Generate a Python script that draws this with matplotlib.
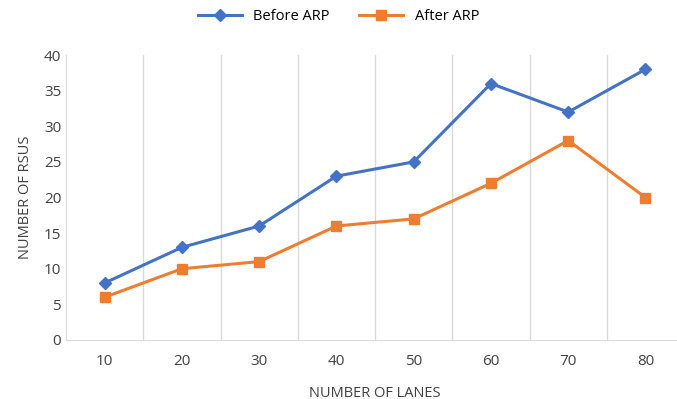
import matplotlib.pyplot as plt

# Chart data
lanes = ['10', '20', '30', '40', '50', '60', '70', '80']
before_arp = [8, 13, 16, 23, 25, 36, 32, 38]
after_arp = [6, 10, 11, 16, 17, 22, 28, 20]

plt.rcParams['font.family'] = ['Open Sans', 'DejaVu Sans']

fig = plt.figure(figsize=(6.77, 3.99), dpi=100)
ax = fig.add_axes([0.0975, 0.148, 0.913, 0.714])

x = range(len(lanes))
ax.plot(x, before_arp, color='#4472C4', marker='D', markersize=6, linewidth=2.2, label='Before ARP')
ax.plot(x, after_arp, color='#ED7D31', marker='s', markersize=7, linewidth=2.2, label='After ARP')

ax.set_xlim(-0.5, len(lanes) - 0.5)
ax.set_ylim(0, 40)
ax.set_yticks(range(0, 41, 5))
ax.set_xticks(list(x))
ax.set_xticklabels(lanes)

# vertical gridlines between categories
for b in range(1, len(lanes)):
    ax.axvline(b - 0.5, color='#D9D9D9', linewidth=1, zorder=0)

for s in ['top', 'right']:
    ax.spines[s].set_visible(False)
for s in ['left', 'bottom']:
    ax.spines[s].set_color('#D9D9D9')
ax.tick_params(length=0, labelsize=11, colors='#404040')
ax.tick_params(axis='x', pad=10)

ax.set_xlabel('NUMBER OF LANES', fontsize=10.5, color='#404040', labelpad=12)
ax.set_ylabel('NUMBER OF RSUS', fontsize=10.5, color='#404040', labelpad=8)

fig.legend(loc='upper center', bbox_to_anchor=(0.5, 1.01), ncol=2, frameon=False,
           fontsize=10.5, handlelength=3, columnspacing=2)

fig.savefig('out.png', dpi=100)
